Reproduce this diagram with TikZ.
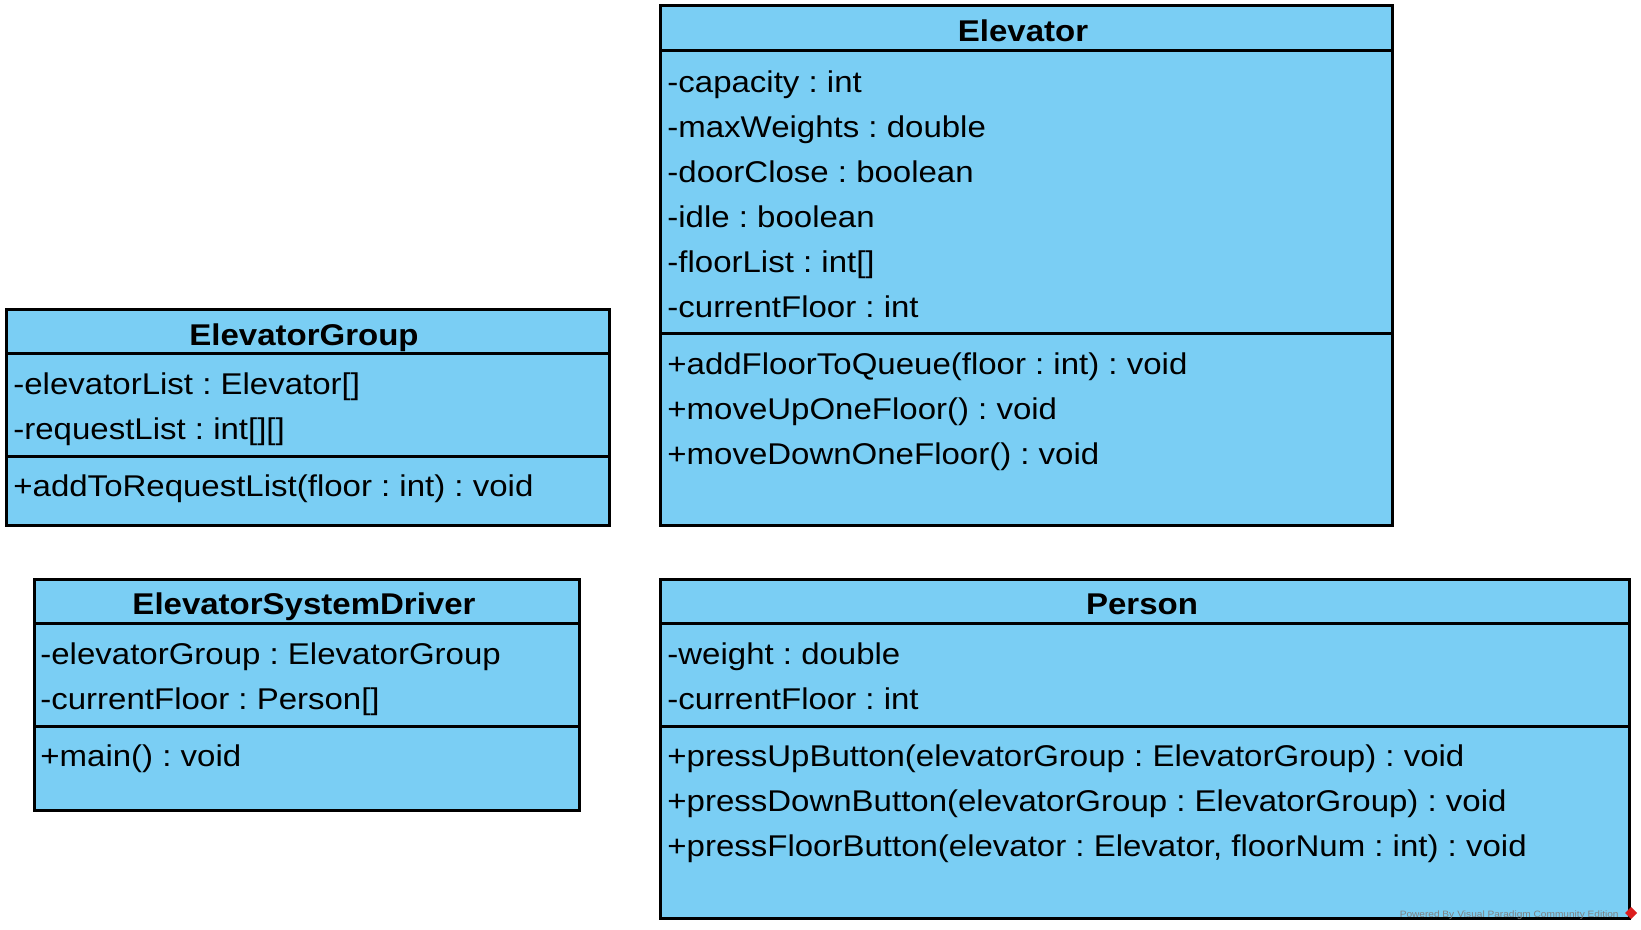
\documentclass[tikz,border=0pt]{standalone}
\usepackage{fontspec}
\setmainfont{Liberation Sans}[FakeStretch=1.1]
\usetikzlibrary{calc}
\definecolor{umlblue}{RGB}{122,206,244}
\definecolor{wmgray}{RGB}{128,128,128}
\definecolor{wmred}{RGB}{220,30,30}
\frenchspacing
\tikzset{
  classbox/.style={draw=black, line width=1.5pt, fill=umlblue, inner sep=0pt, outer sep=0pt, anchor=north west},
  sepline/.style={draw=black, line width=1.5pt},
  member/.style={anchor=base west, inner sep=0pt, font=\fontsize{15}{18}\selectfont},
  title/.style={anchor=base, inner sep=0pt, font=\fontsize{15}{18}\selectfont\bfseries},
  wmark/.style={anchor=base east, inner sep=0pt, text=wmgray, font=\fontsize{4.6}{5}\selectfont}
}
\begin{document}
\begin{tikzpicture}[x=0.5pt,y=-0.5pt]
\useasboundingbox (0,0) rectangle (1641,930);
% Elevator
\node[classbox, minimum width=366pt, minimum height=259.5pt] (elev) at (660,6) {};
\draw[sepline] ($(elev.north west)+(0,45)$) -- ($(elev.north east)+(0,45)$);
\draw[sepline] ($(elev.north west)+(0,327.7)$) -- ($(elev.north east)+(0,327.7)$);
\node[title] (elevT) at (1023,41.7) {Elevator};
\node[member] (e1) at (667,92.7) {-capacity : int};
\node[member] (e2) at (667,137.7) {-maxWeights : double};
\node[member] (e3) at (667,182.7) {-doorClose : boolean};
\node[member] (e4) at (667,227.7) {-idle : boolean};
\node[member] (e5) at (667,272.7) {-floorList : int[]};
\node[member] (e6) at (667,317.7) {-currentFloor : int};
\node[member] (e7) at (667,374.3) {+addFloorToQueue(floor : int) : void};
\node[member] (e8) at (667,419.3) {+moveUpOneFloor() : void};
\node[member] (e9) at (667,464.3) {+moveDownOneFloor() : void};
% ElevatorGroup
\node[classbox, minimum width=301.5pt, minimum height=107.5pt] (grp) at (6,310) {};
\draw[sepline] ($(grp.north west)+(0,43)$) -- ($(grp.north east)+(0,43)$);
\draw[sepline] ($(grp.north west)+(0,146)$) -- ($(grp.north east)+(0,146)$);
\node[title] (grpT) at (304,345.7) {ElevatorGroup};
\node[member] (g1) at (13,394.7) {-elevatorList : Elevator[]};
\node[member] (g2) at (13,439.7) {-requestList : int[][]};
\node[member] (g3) at (13,496.6) {+addToRequestList(floor : int) : void};
% ElevatorSystemDriver
\node[classbox, minimum width=272.5pt, minimum height=115.5pt] (drv) at (34,579) {};
\draw[sepline] ($(drv.north west)+(0,44)$) -- ($(drv.north east)+(0,44)$);
\draw[sepline] ($(drv.north west)+(0,147)$) -- ($(drv.north east)+(0,147)$);
\node[title] (drvT) at (304,614.7) {ElevatorSystemDriver};
\node[member] (d1) at (40,664.7) {-elevatorGroup : ElevatorGroup};
\node[member] (d2) at (40,709.7) {-currentFloor : Person[]};
\node[member] (d3) at (40,766.6) {+main() : void};
% Person
\node[classbox, minimum width=484.5pt, minimum height=169.5pt] (per) at (660,579) {};
\draw[sepline] ($(per.north west)+(0,44)$) -- ($(per.north east)+(0,44)$);
\draw[sepline] ($(per.north west)+(0,147)$) -- ($(per.north east)+(0,147)$);
\node[title] (perT) at (1142,614.7) {Person};
\node[member] (p1) at (667,664.7) {-weight : double};
\node[member] (p2) at (667,709.7) {-currentFloor : int};
\node[member] (p3) at (667,766.6) {+pressUpButton(elevatorGroup : ElevatorGroup) : void};
\node[member] (p4) at (667,811.6) {+pressDownButton(elevatorGroup : ElevatorGroup) : void};
\node[member] (p5) at (667,856.6) {+pressFloorButton(elevator : Elevator, floorNum : int) : void};
% watermark
\node[wmark] (wm) at (1619,917) {Powered By\,\,Visual Paradigm Community Edition};
\fill[wmred] (1631,907) -- (1637,913) -- (1631,919) -- (1625,913) -- cycle;
\end{tikzpicture}
\end{document}
